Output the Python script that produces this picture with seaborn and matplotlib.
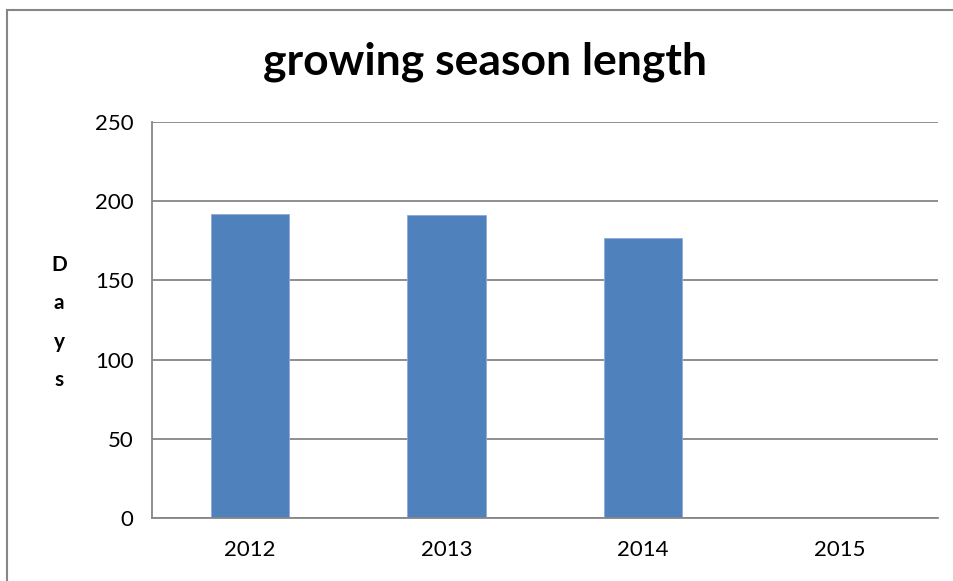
import numpy as np
import pandas as pd
import matplotlib
matplotlib.use("Agg")
import matplotlib.pyplot as plt
import seaborn as sns
from matplotlib.patches import Rectangle

# data
years = ["2012", "2013", "2014", "2015"]
days = [192, 191, 177, np.nan]
y_ticks = [0, 50, 100, 150, 200, 250]

df = pd.DataFrame({"year": years, "days": days})

sns.set_style("white")
plt.rcParams["font.family"] = ["Lato", "DejaVu Sans"]
plt.rcParams["text.color"] = "black"
plt.rcParams["xtick.labelcolor"] = "black"
plt.rcParams["ytick.labelcolor"] = "black"

grey = "#868686"
fig = plt.figure(figsize=(9.54, 5.81), dpi=100)
ax = fig.add_axes([0.159, 0.108, 0.824, 0.6825])

sns.barplot(data=df, x="year", y="days", order=years, color="#4F81BD",
            width=0.4, saturation=1, edgecolor="#8eaad8", linewidth=0.6, ax=ax)

ax.set_ylim(0, 250)
ax.set_xlim(-0.5, 3.5)
ax.set_yticks(y_ticks)
ax.yaxis.grid(True, color=grey, linewidth=1.3)
ax.set_axisbelow(True)

for s in ["top", "right"]:
    ax.spines[s].set_visible(False)
for s in ["left", "bottom"]:
    ax.spines[s].set_color(grey)
    ax.spines[s].set_linewidth(1.3)

ax.tick_params(axis="y", length=5, color=grey, width=1.3, labelsize=16, pad=8)
ax.tick_params(axis="x", which="major", length=0, labelsize=16, pad=16)
ax.set_xticks(np.arange(-0.5, 4.0, 1), minor=True)
ax.tick_params(axis="x", which="minor", length=6, color=grey, width=1.3)

ax.set_xlabel("")
ax.set_ylabel("")
fig.text(0.062, 0.445, "D\na\ny\ns", ha="center", va="center",
         fontsize=15, fontweight="bold", linespacing=2.15)

fig.text(0.508, 0.893, "growing season length", ha="center", va="center",
         fontsize=32, fontweight="bold")

# chart frame (only top and left edges visible)
fig.patches.append(Rectangle((7 / 954, -0.2), 1.5, 1.2 - 10 / 581,
                             transform=fig.transFigure, fill=False,
                             edgecolor=grey, linewidth=1.5))

fig.savefig("out.png", dpi=100)
